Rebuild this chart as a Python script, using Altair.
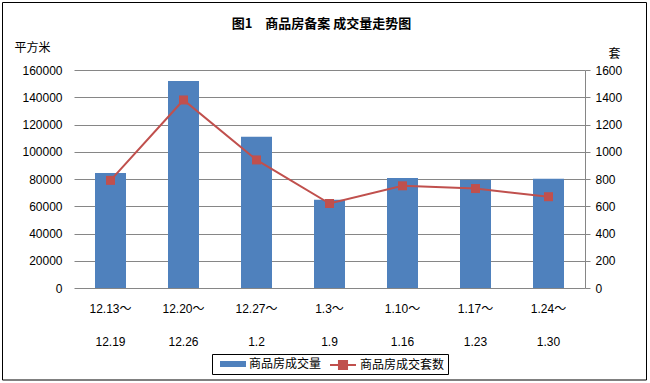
import altair as alt
import pandas as pd

# ---- data ----
week_start = ["12.13～", "12.20～", "12.27～", "1.3～", "1.10～", "1.17～", "1.24～"]
week_end = ["12.19", "12.26", "1.2", "1.9", "1.16", "1.23", "1.30"]
area_sqm = [84400, 152000, 111000, 64800, 80700, 79500, 80200]   # 商品房成交量 (平方米)
units_sold = [790, 1380, 940, 620, 750, 730, 670]                # 商品房成交套数 (套)

series_names = ["商品房成交量", "商品房成交套数"]
series_colors = ["#4F81BD", "#C0504D"]

periods = [f"{a}|{b}" for a, b in zip(week_start, week_end)]
df = pd.DataFrame({"period": periods, "area": area_sqm, "units": units_sold})

GRID = "#868686"
NUM_FONT = "Liberation Sans, Noto Sans CJK SC"
CJK_FONT = "Noto Sans CJK SC"

common_legend = dict(
    title=None,
    orient="none",
    legendY=281,
    direction="horizontal",
    padding=0,
    symbolSize=676,
    labelFont=CJK_FONT,
    labelFontSize=12,
    labelColor="#000000",
    labelOffset=3,
)
legend_bar = alt.Legend(legendX=146, symbolType="M-1,-0.23H1V0.23H-1Z",
                        symbolStrokeWidth=0, **common_legend)
legend_line = alt.Legend(legendX=255, symbolType="M-1,0H1M-0.31,-0.31H0.31V0.31H-0.31Z",
                         symbolFillColor=series_colors[1], symbolStrokeWidth=2, **common_legend)

x_enc = alt.X(
    "period:N",
    sort=periods,
    title=None,
    scale=alt.Scale(paddingInner=0.575, paddingOuter=0.2875),
    axis=alt.Axis(
        labelExpr="split(datum.label, '|')",
        labelAngle=0,
        labelLineHeight=33,
        labelBaseline="top",
        labelPadding=15,
        labelFont=NUM_FONT,
        labelFontSize=12,
        labelColor="#000000",
        domain=False,
        ticks=False,
        grid=False,
    ),
)

bars = (
    alt.Chart(df)
    .transform_calculate(series=f"'{series_names[0]}'")
    .mark_bar(size=31)
    .encode(
        x=x_enc,
        y=alt.Y(
            "area:Q",
            scale=alt.Scale(domain=[0, 160000], nice=False),
            axis=alt.Axis(
                values=list(range(0, 160001, 20000)),
                format="d",
                title="平方米",
                titleAngle=0,
                titleX=-60,
                titleY=-23,
                titleAlign="left",
                titleBaseline="middle",
                titleFont=CJK_FONT,
                titleFontSize=12,
                titleFontWeight="normal",
                titleColor="#000000",
                labelFont=NUM_FONT,
                labelFontSize=12,
                labelColor="#000000",
                labelPadding=12,
                domain=False,
                ticks=False,
                grid=True,
                gridColor=GRID,
                gridWidth=1,
            ),
        ),
        color=alt.Color("series:N", scale=alt.Scale(domain=[series_names[0]], range=[series_colors[0]]),
                        legend=legend_bar),
    )
)

y2_axis = alt.Axis(
    orient="right",
    values=list(range(0, 1601, 200)),
    format="d",
    title="套",
    titleAngle=0,
    titleX=29,
    titleY=-17,
    titleAlign="center",
    titleBaseline="middle",
    titleFont=CJK_FONT,
    titleFontSize=12,
    titleFontWeight="normal",
    titleColor="#000000",
    labelFont=NUM_FONT,
    labelFontSize=12,
    labelColor="#000000",
    labelPadding=5,
    domain=True,
    domainColor=GRID,
    ticks=True,
    tickColor=GRID,
    tickSize=5,
    grid=False,
)
y2 = alt.Y("units:Q", scale=alt.Scale(domain=[0, 1600], nice=False), axis=y2_axis)

line = (
    alt.Chart(df)
    .transform_calculate(series=f"'{series_names[1]}'")
    .mark_line(strokeWidth=2)
    .encode(x=x_enc, y=y2,
            stroke=alt.Stroke("series:N", scale=alt.Scale(domain=[series_names[1]], range=[series_colors[1]]),
                              legend=legend_line))
)
points = (
    alt.Chart(df)
    .mark_point(shape="square", filled=True, size=81, opacity=1, color=series_colors[1])
    .encode(x=x_enc, y=y2)
)

lines = alt.layer(line, points)

border = (
    alt.Chart(pd.DataFrame({"k": [0]}))
    .mark_rect(fill=None, stroke="#000000", strokeWidth=1)
    .encode(x=alt.value(-71.5), x2=alt.value(572.5), y=alt.value(-67.5), y2=alt.value(310))
)
legend_box = (
    alt.Chart(pd.DataFrame({"k": [0]}))
    .mark_rect(fill=None, stroke="#000000", strokeWidth=1)
    .encode(x=alt.value(138.5), x2=alt.value(374.5), y=alt.value(284.5), y2=alt.value(304.5))
)

chart = (
    alt.layer(bars, lines, border, legend_box)
    .resolve_scale(y="independent")
    .properties(
        width=511,
        height=218,
        padding={"left": 74, "top": 70, "right": 65, "bottom": 95},
        autosize=alt.AutoSizeParams(type="none"),
        background="#FFFFFF",
        title=alt.TitleParams(
            text="图1　商品房备案 成交量走势图",
            font=CJK_FONT,
            fontSize=13,
            fontWeight="bold",
            color="#000000",
            anchor="middle",
            dx=-8,
            dy=29,
            offset=0,
        ),
    )
    .configure_view(stroke=None)
)

chart.save("out.html", embed_options={"renderer": "svg", "actions": False})
